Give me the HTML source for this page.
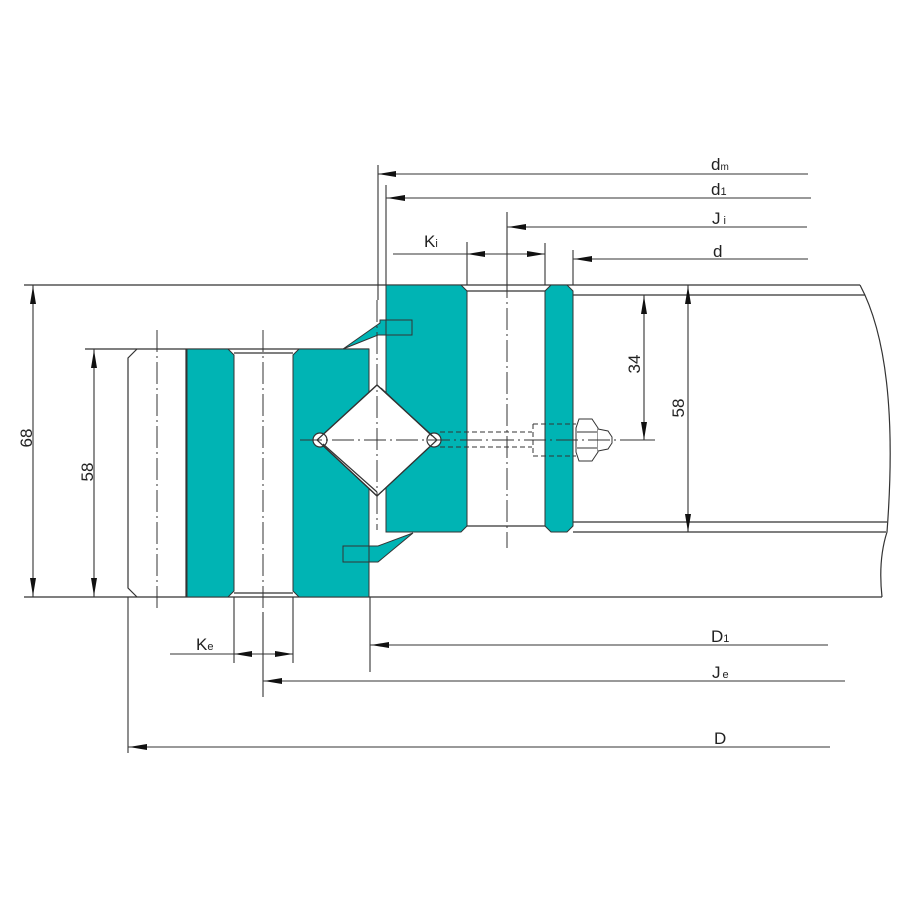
<!DOCTYPE html>
<html><head><meta charset="utf-8"><style>
html,body{margin:0;padding:0;background:#fff}
svg{display:block}
text{font-family:"Liberation Sans",sans-serif;fill:#222}
</style></head><body>
<svg width="900" height="900" viewBox="0 0 900 900" xmlns="http://www.w3.org/2000/svg">
<g stroke="#333" stroke-width="1.2" fill="none">
<line x1="24" y1="285" x2="860" y2="285"/>
<path d="M860,285 Q900,360 887,532 Q878,560 882,597"/>
<line x1="573" y1="295" x2="865" y2="295"/>
<line x1="573" y1="522" x2="887" y2="522"/>
<line x1="573" y1="532" x2="886" y2="532"/>
<line x1="24" y1="597" x2="882" y2="597"/>
<line x1="85" y1="349" x2="369" y2="349"/>
<line x1="467" y1="291" x2="545" y2="291"/>
<line x1="467" y1="526" x2="545" y2="526"/>
<line x1="234" y1="353" x2="293" y2="353"/>
<line x1="234" y1="593" x2="293" y2="593"/>
<path d="M137,349 L128,358 L128,588 L137,597"/>
<line x1="186" y1="349" x2="186" y2="597"/>
</g>
<g fill="#00b4b4" stroke="#333" stroke-width="1">
<path d="M187,349 L228,349 L234,355 L234,591 L228,597 L187,597 Z"/>
<path d="M299,349 L369,349 L369,597 L299,597 L293,591 L293,355 Z"/>
<path d="M386,285 L461,285 L467,291 L467,526 L461,532 L386,532 Z"/>
<path d="M551,285 L567,285 L573,291 L573,526 L567,532 L551,532 L545,526 L545,291 Z"/>
</g>
<rect x="370" y="300" width="15" height="240" fill="#fff"/>
<g fill="#00b4b4" stroke="#333" stroke-width="1">
<path d="M343,349 L380,323 L380,320 L412,320 L412,335 L378,335 Z"/>
<path d="M343,546 L378,546 L413,533 L378,562 L343,562 Z"/>
</g>
<line x1="369" y1="349" x2="369" y2="597" stroke="#333" stroke-width="1"/>
<line x1="386" y1="285" x2="386" y2="532" stroke="#333" stroke-width="1"/>
<g stroke="#333" stroke-width="1.2" fill="#fff">
<path d="M377,385 L437,440 L377,496 L317,440 Z"/>
<circle cx="320" cy="440" r="7"/>
<circle cx="434" cy="440" r="7"/>
<path d="M377,385 L437,440 L377,496 L317,440 Z" fill="none"/>
<line x1="323" y1="444" x2="377" y2="492" fill="none"/>
<line x1="381" y1="388" x2="432" y2="436" fill="none"/>
</g>
<g stroke="#333" stroke-width="1" fill="none" stroke-dasharray="5,3">
<line x1="440" y1="432" x2="532" y2="432"/>
<line x1="440" y1="447" x2="532" y2="447"/>
<line x1="533" y1="424" x2="576" y2="424"/>
<line x1="533" y1="456" x2="576" y2="456"/>
<line x1="533" y1="424" x2="533" y2="456"/>
</g>
<g stroke="#333" stroke-width="1" fill="#fff">
<path d="M579,419 L592,419 L598,428 L598,452 L592,461 L579,461 L576,452 L576,428 Z"/>
<line x1="577" y1="432" x2="597" y2="432"/>
<line x1="577" y1="448" x2="597" y2="448"/>
<path d="M598,429 L608,431 L612,437 L612,443 L608,449 L598,451"/>
</g>
<g stroke="#333" stroke-width="1" stroke-dasharray="22,4,2,4" fill="none">
<line x1="300" y1="440" x2="655" y2="440"/>
<line x1="157" y1="330" x2="157" y2="612"/>
<line x1="263" y1="330" x2="263" y2="612"/>
<line x1="507" y1="212" x2="507" y2="548"/>
<line x1="377" y1="300" x2="377" y2="530"/>
</g>
<g stroke="#333" stroke-width="1.1" fill="none">
<line x1="378" y1="165" x2="378" y2="300"/>
<line x1="386" y1="185" x2="386" y2="285"/>
<line x1="467" y1="242" x2="467" y2="285"/>
<line x1="545" y1="243" x2="545" y2="285"/>
<line x1="573" y1="250" x2="573" y2="285"/>
<line x1="507" y1="212" x2="507" y2="290"/>
<line x1="378" y1="174" x2="808" y2="174"/>
<line x1="386" y1="198" x2="811" y2="198"/>
<line x1="507" y1="227" x2="807" y2="227"/>
<line x1="573" y1="259" x2="808" y2="259"/>
<line x1="393" y1="254" x2="545" y2="254"/>
<line x1="33" y1="285" x2="33" y2="597"/>
<line x1="94" y1="349" x2="94" y2="597"/>
<line x1="644" y1="295" x2="644" y2="440"/>
<line x1="623" y1="440" x2="655" y2="440"/>
<line x1="688" y1="285" x2="688" y2="532"/>
<line x1="370" y1="597" x2="370" y2="672"/>
<line x1="234" y1="597" x2="234" y2="663"/>
<line x1="293" y1="597" x2="293" y2="663"/>
<line x1="263" y1="612" x2="263" y2="697"/>
<line x1="128" y1="597" x2="128" y2="753"/>
<line x1="370" y1="645" x2="828" y2="645"/>
<line x1="263" y1="681" x2="845" y2="681"/>
<line x1="128" y1="747" x2="830" y2="747"/>
<line x1="170" y1="654" x2="293" y2="654"/>
</g>
<!-- arrowheads -->
<g fill="#111">
<polygon points="378,174 396,171 396,177"/>
<polygon points="387,198 405,195 405,201"/>
<polygon points="508,227 526,224 526,230"/>
<polygon points="574,259 592,256 592,262"/>
<polygon points="467,254 485,251 485,257"/>
<polygon points="545,254 527,251 527,257"/>
<polygon points="371,645 389,642 389,648"/>
<polygon points="264,681 282,678 282,684"/>
<polygon points="129,747 147,744 147,750"/>
<polygon points="234,654 252,651 252,657"/>
<polygon points="293,654 275,651 275,657"/>
<polygon points="33,286 30,304 36,304"/>
<polygon points="33,596 30,578 36,578"/>
<polygon points="94,350 91,368 97,368"/>
<polygon points="94,596 91,578 97,578"/>
<polygon points="644,296 641,314 647,314"/>
<polygon points="644,440 641,422 647,422"/>
<polygon points="688,286 685,304 691,304"/>
<polygon points="688,532 685,514 691,514"/>
</g>
<g font-size="17">
<text x="711" y="170">d<tspan font-size="10">m</tspan></text>
<text x="711" y="195">d<tspan font-size="11">1</tspan></text>
<text x="712" y="224">J<tspan font-size="11" dx="3">i</tspan></text>
<text x="713" y="257">d</text>
<text x="424" y="247">K<tspan font-size="11">i</tspan></text>
<text x="196" y="650">K<tspan font-size="11">e</tspan></text>
<text x="711" y="642">D<tspan font-size="11">1</tspan></text>
<text x="712" y="678">J<tspan font-size="11" dx="2">e</tspan></text>
<text x="714" y="744">D</text>
<text transform="translate(32,438) rotate(-90)" text-anchor="middle">68</text>
<text transform="translate(93,472) rotate(-90)" text-anchor="middle">58</text>
<text transform="translate(640,364) rotate(-90)" text-anchor="middle">34</text>
<text transform="translate(684,408) rotate(-90)" text-anchor="middle">58</text>
</g>
</svg>
</body></html>
